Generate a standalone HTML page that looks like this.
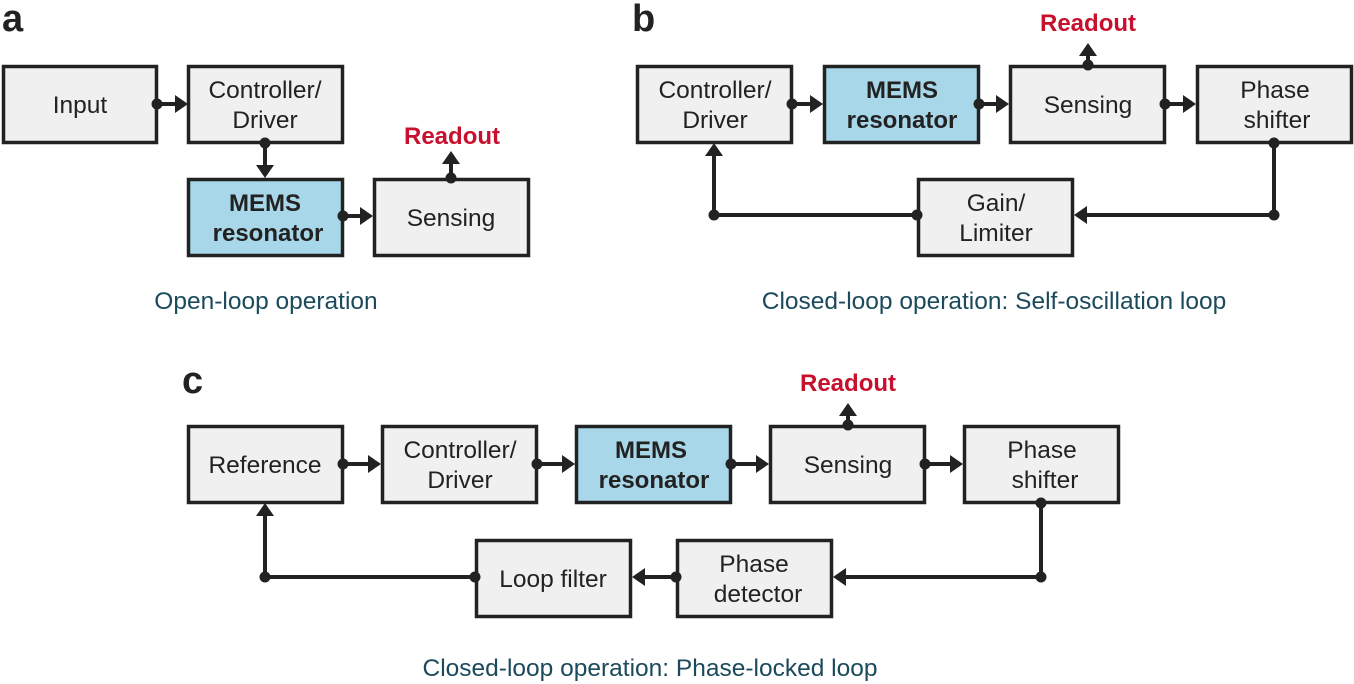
<!DOCTYPE html>
<html><head><meta charset="utf-8"><style>
html,body{margin:0;padding:0;background:#fff}
svg{display:block}
text{font-family:"Liberation Sans",Arial,sans-serif}
.b{fill:#f0f0f0;stroke:#222;stroke-width:3.5}
.m{fill:#a9d7ea;stroke:#222;stroke-width:3.5}
.t{font-size:24.5px;fill:#222;text-anchor:middle}
.tb{font-size:24px;fill:#222;text-anchor:middle;font-weight:bold}
.l{stroke:#222;stroke-width:4;fill:none}
.r{font-size:24px;fill:#c8102e;font-weight:bold;text-anchor:middle}
.c{font-size:24.5px;fill:#1b4a5c;text-anchor:middle}
.p{font-size:38px;font-weight:bold;fill:#222}
</style></head><body>
<svg width="1354" height="684" viewBox="0 0 1354 684" xmlns="http://www.w3.org/2000/svg">
<g fill="#222">
<text class="p" x="2" y="31">a</text>
<text class="p" x="632" y="31">b</text>
<text class="p" x="182" y="393">c</text>

<!-- Panel a -->
<rect class="b" x="3.5" y="66.5" width="153" height="76"/>
<text class="t" x="80" y="113">Input</text>
<rect class="b" x="188.5" y="66.5" width="154" height="76"/>
<text class="t" x="265" y="98">Controller/</text><text class="t" x="265" y="128">Driver</text>
<rect class="m" x="188.5" y="179.5" width="154" height="76"/>
<text class="tb" x="265" y="211">MEMS</text><text class="tb" x="268" y="241">resonator</text>
<rect class="b" x="374.5" y="179.5" width="154" height="76"/>
<text class="t" x="451" y="226">Sensing</text>
<text class="r" x="452" y="144">Readout</text>

<line class="l" x1="157" y1="104" x2="177" y2="104"/><circle cx="157" cy="104" r="5.5"/><polygon points="175,95 188,104 175,113"/>
<line class="l" x1="265" y1="143" x2="265" y2="167"/><circle cx="265" cy="143" r="5.5"/><polygon points="256,165 265,178 274,165"/>
<line class="l" x1="343" y1="216" x2="362" y2="216"/><circle cx="343" cy="216" r="5.5"/><polygon points="360,207 373,216 360,225"/>
<line class="l" x1="451" y1="178" x2="451" y2="162"/><circle cx="451" cy="178" r="5.5"/><polygon points="442,164 451,151 460,164"/>
<text class="c" x="266" y="309">Open-loop operation</text>

<!-- Panel b -->
<rect class="b" x="637.5" y="66.5" width="154" height="76"/>
<text class="t" x="715" y="98">Controller/</text><text class="t" x="715" y="128">Driver</text>
<rect class="m" x="824.5" y="66.5" width="154" height="76"/>
<text class="tb" x="902" y="98">MEMS</text><text class="tb" x="902" y="128">resonator</text>
<rect class="b" x="1010.5" y="66.5" width="154" height="76"/>
<text class="t" x="1088" y="113">Sensing</text>
<rect class="b" x="1197.5" y="66.5" width="154" height="76"/>
<text class="t" x="1275" y="98">Phase</text><text class="t" x="1277" y="128">shifter</text>
<rect class="b" x="918.5" y="179.5" width="154" height="76"/>
<text class="t" x="996" y="211">Gain/</text><text class="t" x="996" y="241">Limiter</text>
<text class="r" x="1088" y="31">Readout</text>

<line class="l" x1="792" y1="104" x2="812" y2="104"/><circle cx="792" cy="104" r="5.5"/><polygon points="810,95 823,104 810,113"/>
<line class="l" x1="979" y1="104" x2="998" y2="104"/><circle cx="979" cy="104" r="5.5"/><polygon points="996,95 1009,104 996,113"/>
<line class="l" x1="1165" y1="104" x2="1185" y2="104"/><circle cx="1165" cy="104" r="5.5"/><polygon points="1183,95 1196,104 1183,113"/>
<line class="l" x1="1088" y1="65" x2="1088" y2="54"/><circle cx="1088" cy="65" r="5.5"/><polygon points="1079,56 1088,43 1097,56"/>
<polyline class="l" points="1274,143 1274,215 1085,215"/><circle cx="1274" cy="143" r="5.5"/><circle cx="1274" cy="215" r="5.5"/><polygon points="1087,206 1074,215 1087,224"/>
<polyline class="l" points="917,215 714,215 714,154"/><circle cx="917" cy="215" r="5.5"/><circle cx="714" cy="215" r="5.5"/><polygon points="705,156 714,143 723,156"/>
<text class="c" x="994" y="309">Closed-loop operation: Self-oscillation loop</text>

<!-- Panel c -->
<rect class="b" x="188.5" y="426.5" width="154" height="76"/>
<text class="t" x="265" y="473">Reference</text>
<rect class="b" x="382.5" y="426.5" width="154" height="76"/>
<text class="t" x="460" y="458">Controller/</text><text class="t" x="460" y="488">Driver</text>
<rect class="m" x="576.5" y="426.5" width="154" height="76"/>
<text class="tb" x="651" y="458">MEMS</text><text class="tb" x="654" y="488">resonator</text>
<rect class="b" x="770.5" y="426.5" width="154" height="76"/>
<text class="t" x="848" y="473">Sensing</text>
<rect class="b" x="964.5" y="426.5" width="154" height="76"/>
<text class="t" x="1042" y="458">Phase</text><text class="t" x="1045" y="488">shifter</text>
<rect class="b" x="476.5" y="540.5" width="154" height="76"/>
<text class="t" x="553" y="587">Loop filter</text>
<rect class="b" x="677.5" y="540.5" width="154" height="76"/>
<text class="t" x="754" y="572">Phase</text><text class="t" x="758" y="602">detector</text>
<text class="r" x="848" y="391">Readout</text>

<line class="l" x1="343" y1="464" x2="370" y2="464"/><circle cx="343" cy="464" r="5.5"/><polygon points="368,455 381,464 368,473"/>
<line class="l" x1="537" y1="464" x2="564" y2="464"/><circle cx="537" cy="464" r="5.5"/><polygon points="562,455 575,464 562,473"/>
<line class="l" x1="731" y1="464" x2="758" y2="464"/><circle cx="731" cy="464" r="5.5"/><polygon points="756,455 769,464 756,473"/>
<line class="l" x1="925" y1="464" x2="952" y2="464"/><circle cx="925" cy="464" r="5.5"/><polygon points="950,455 963,464 950,473"/>
<line class="l" x1="848" y1="425" x2="848" y2="414"/><circle cx="848" cy="425" r="5.5"/><polygon points="839,416 848,403 857,416"/>
<polyline class="l" points="1041,503 1041,577 844,577"/><circle cx="1041" cy="503" r="5.5"/><circle cx="1041" cy="577" r="5.5"/><polygon points="846,568 833,577 846,586"/>
<line class="l" x1="676" y1="577" x2="643" y2="577"/><circle cx="676" cy="577" r="5.5"/><polygon points="645,568 632,577 645,586"/>
<polyline class="l" points="475,577 265,577 265,514"/><circle cx="475" cy="577" r="5.5"/><circle cx="265" cy="577" r="5.5"/><polygon points="256,516 265,503 274,516"/>
<text class="c" x="650" y="676">Closed-loop operation: Phase-locked loop</text>
</g>
</svg>
</body></html>
